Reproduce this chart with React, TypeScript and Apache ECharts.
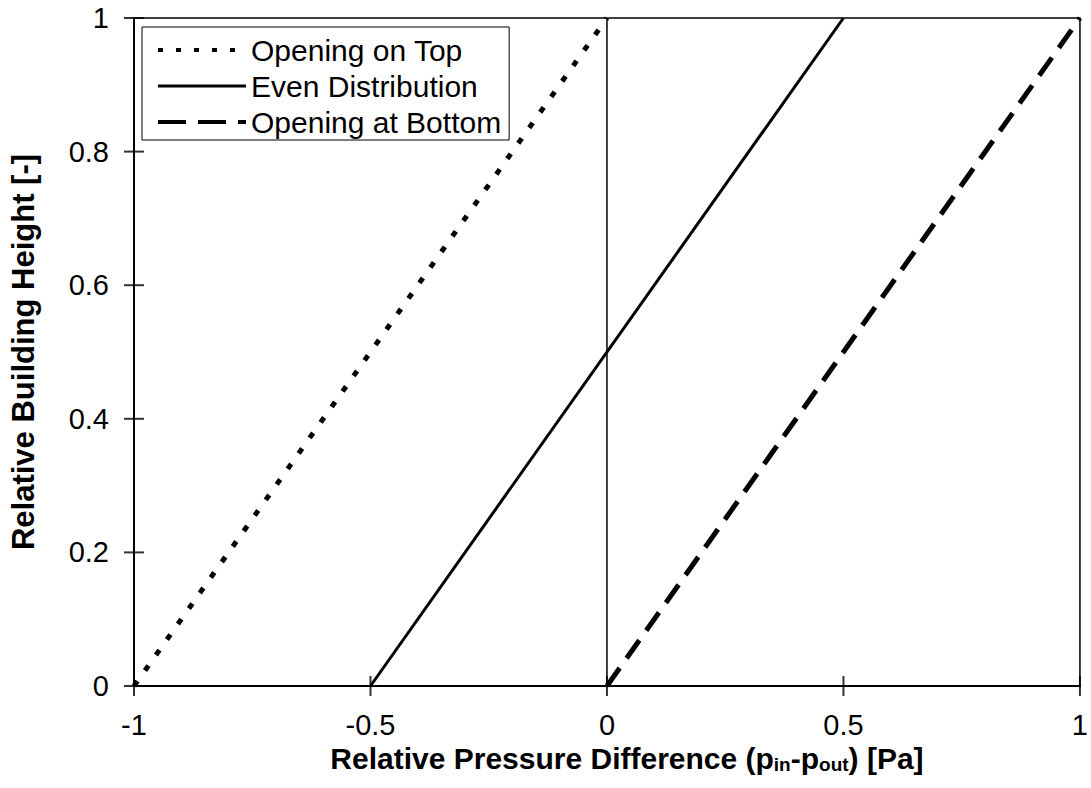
import React, { useEffect, useRef } from "react";
import * as echarts from "echarts";

const seriesNames = ["Opening on Top", "Even Distribution", "Opening at Bottom"];
const topX = [-1, 0];
const topY = [0, 1];
const evenX = [-0.5, 0.5];
const evenY = [0, 1];
const bottomX = [0, 1];
const bottomY = [0, 1];
const zeroLineX = [0, 0];
const zeroLineY = [0, 1];
const xTicks = [-1, -0.5, 0, 0.5, 1];
const yTicks = [0, 0.2, 0.4, 0.6, 0.8, 1];

const FONT = "'Liberation Sans', Arial, sans-serif";

function pairs(xs: number[], ys: number[]) {
  return xs.map((x, i) => [x, ys[i]]);
}

const dottedStyle = { color: "#000", width: 5, type: [6, 13], cap: "butt" };
const solidStyle = { color: "#000", width: 3, type: "solid" };
const dashedStyle = { color: "#000", width: 5, type: [22, 12], cap: "butt" };

export default function App() {
  const ref = useRef<HTMLDivElement>(null);
  useEffect(() => {
    if (!ref.current) return;
    const chart = echarts.init(ref.current, null, { renderer: "svg" });
    const xMin = xTicks[0];
    const yMin = yTicks[0];
    chart.setOption({
      animation: false,
      backgroundColor: "#ffffff",
      textStyle: { fontFamily: FONT },
      grid: {
        left: 133,
        right: 5,
        top: 18,
        bottom: 102,
        show: true,
        borderColor: "#000",
        borderWidth: 1.5,
        containLabel: false,
      },
      legend: {
        data: [
          { name: seriesNames[0], lineStyle: { width: 4, type: [5, 13], color: "#000" } },
          { name: seriesNames[1], lineStyle: { width: 3, type: "solid", color: "#000" } },
          { name: seriesNames[2], lineStyle: { width: 4, type: [28, 12], color: "#000" } },
        ],
        orient: "vertical",
        left: 142,
        top: 27,
        width: 369,
        padding: [8, 8, 3, 14],
        itemGap: 6,
        itemWidth: 88,
        itemHeight: 30,
        backgroundColor: "#fff",
        borderColor: "#000",
        borderWidth: 1,
        itemStyle: { opacity: 0 },
        textStyle: { fontSize: 30, color: "#000", fontFamily: FONT, lineHeight: 30 },
      },
      xAxis: {
        type: "value",
        min: xTicks[0],
        max: xTicks[xTicks.length - 1],
        interval: 0.5,
        splitLine: { show: false },
        position: "bottom",
        axisLine: { onZero: false, lineStyle: { color: "#000", width: 2 } },
        axisTick: { show: false },
        axisLabel: {
          fontSize: 29,
          color: "#000",
          margin: 24,
          fontFamily: FONT,
          formatter: (v: number) => String(v),
        },
        name: "Relative Pressure Difference (p{sub|in}-p{sub|out}) [Pa]",
        nameLocation: "middle",
        nameGap: 40,
        nameTextStyle: {
          fontSize: 30,
          fontWeight: "bold",
          color: "#000",
          fontFamily: FONT,
          padding: [0, 0, 0, 40],
          rich: {
            sub: {
              fontSize: 19,
              fontWeight: "bold",
              color: "#000",
              fontFamily: FONT,
              verticalAlign: "bottom",
              padding: [10, 0, 0, 0],
            },
          },
        },
      },
      yAxis: {
        type: "value",
        min: yTicks[0],
        max: yTicks[yTicks.length - 1],
        interval: 0.2,
        splitLine: { show: false },
        position: "left",
        axisLine: { onZero: false, lineStyle: { color: "#000", width: 2 } },
        axisTick: { show: false },
        axisLabel: {
          fontSize: 29,
          color: "#000",
          margin: 25,
          fontFamily: FONT,
          formatter: (v: number) => String(v),
        },
        name: "Relative Building Height [-]",
        nameLocation: "middle",
        nameGap: 95,
        nameTextStyle: { fontSize: 31, fontWeight: "bold", color: "#000", fontFamily: FONT },
      },
      series: [
        {
          name: "zero",
          type: "line",
          data: pairs(zeroLineX, zeroLineY),
          symbol: "none",
          silent: true,
          lineStyle: { color: "#000", width: 1.5 },
          z: 1,
        },
        {
          name: "xTickMarks",
          type: "scatter",
          data: xTicks.map((x) => [x, yMin]),
          symbol: "rect",
          symbolSize: [2, 20],
          clip: false,
          silent: true,
          itemStyle: { color: "#000" },
          z: 5,
        },
        {
          name: "yTickMarks",
          type: "scatter",
          data: yTicks.map((y) => [xMin, y]),
          symbol: "rect",
          symbolSize: [20, 2],
          clip: false,
          silent: true,
          itemStyle: { color: "#000" },
          z: 5,
        },
        {
          name: seriesNames[0],
          type: "line",
          data: pairs(topX, topY),
          symbol: "none",
          lineStyle: dottedStyle,
          itemStyle: { color: "#000" },
        },
        {
          name: seriesNames[1],
          type: "line",
          data: pairs(evenX, evenY),
          symbol: "none",
          lineStyle: solidStyle,
          itemStyle: { color: "#000" },
        },
        {
          name: seriesNames[2],
          type: "line",
          data: pairs(bottomX, bottomY),
          symbol: "none",
          lineStyle: dashedStyle,
          itemStyle: { color: "#000" },
        },
      ],
    });
    return () => chart.dispose();
  }, []);
  return (
    <div
      ref={ref}
      style={{ position: "fixed", left: 0, top: 0, width: 1091, height: 788, background: "#fff" }}
    />
  );
}
